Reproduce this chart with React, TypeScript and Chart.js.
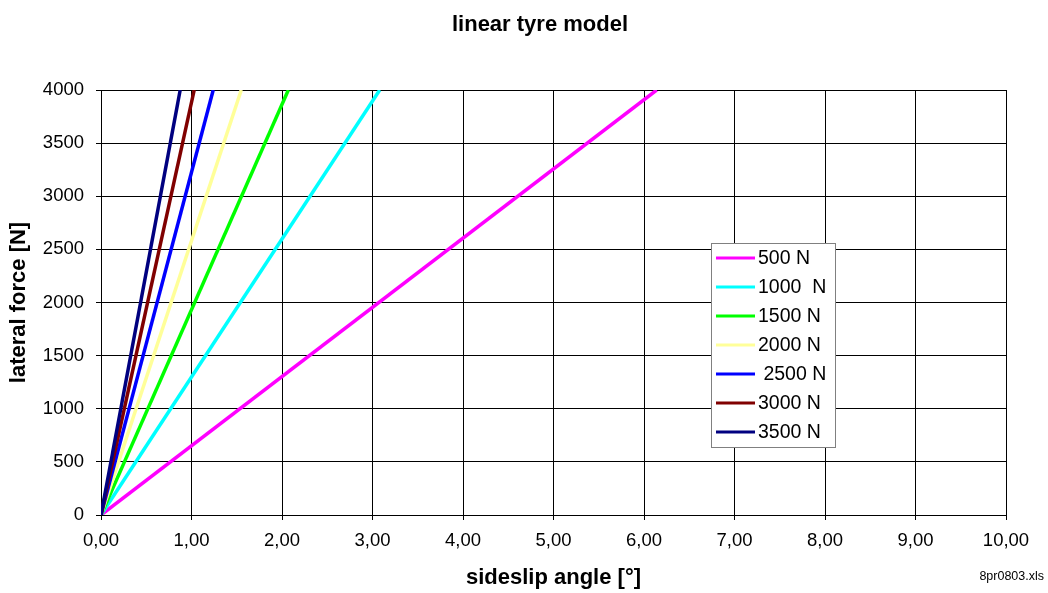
import React, { useEffect, useRef } from "react";
import { Chart, registerables } from "chart.js";

Chart.register(...registerables);

const chartTitle = "linear tyre model";
const xTitle = "sideslip angle [°]";
const yTitle = "lateral force [N]";
const fileNote = "8pr0803.xls";

const seriesLabels = ["500 N", "1000  N", "1500 N", "2000 N", " 2500 N", "3000 N", "3500 N"];
const seriesColors = ["#FF00FF", "#00FFFF", "#00FF00", "#FFFF99", "#0000FF", "#800000", "#000080"];
// sideslip angle [°] at the start and end of each line
const angleStart = [0, 0, 0, 0, 0, 0, 0];
const angleEnd = [6.14, 3.08, 2.07, 1.55, 1.24, 1.03, 0.875];
// lateral force [N] at start and end
const forceStart = [0, 0, 0, 0, 0, 0, 0];
const forceEnd = [4000, 4000, 4000, 4000, 4000, 4000, 4000];

const xMin = 0, xMax = 10, xStep = 1;
const yMin = 0, yMax = 4000, yStep = 500;

const FONT = "'Liberation Sans', Arial, Helvetica, sans-serif";

const titlePlugin = {
  id: "topTitle",
  afterDraw(chart: any) {
    const ctx = chart.ctx;
    ctx.save();
    ctx.font = `bold 22px ${FONT}`;
    ctx.fillStyle = "#000000";
    ctx.textAlign = "center";
    ctx.textBaseline = "alphabetic";
    ctx.fillText(chartTitle, 540, 30.5);
    ctx.restore();
  },
};

const legendPlugin = {
  id: "boxLegend",
  afterDraw(chart: any) {
    const ctx = chart.ctx;
    const x0 = 711.5, y0 = 243.5, w = 124, h = 204;
    ctx.save();
    ctx.fillStyle = "#ffffff";
    ctx.fillRect(x0, y0, w, h);
    ctx.strokeStyle = "#808080";
    ctx.lineWidth = 1;
    ctx.strokeRect(x0, y0, w, h);
    ctx.font = `19.5px ${FONT}`;
    ctx.textBaseline = "middle";
    ctx.textAlign = "left";
    chart.data.datasets.forEach((ds: any, i: number) => {
      const y = 258 + i * 29;
      ctx.strokeStyle = ds.borderColor;
      ctx.lineWidth = 3;
      ctx.beginPath();
      ctx.moveTo(716, y);
      ctx.lineTo(755, y);
      ctx.stroke();
      ctx.fillStyle = "#000000";
      ctx.fillText(ds.label, 758, y + 1);
    });
    ctx.restore();
  },
};

const notePlugin = {
  id: "fileNote",
  afterDraw(chart: any) {
    const ctx = chart.ctx;
    ctx.save();
    ctx.font = `12.5px ${FONT}`;
    ctx.fillStyle = "#000000";
    ctx.textAlign = "right";
    ctx.textBaseline = "middle";
    ctx.fillText(fileNote, 1044, 577);
    ctx.restore();
  },
};

export default function App() {
  const canvasRef = useRef<HTMLCanvasElement | null>(null);

  useEffect(() => {
    document.body.style.margin = "0";
    const canvas = canvasRef.current;
    if (!canvas) return;
    const datasets = seriesLabels.map((label, i) => ({
      label,
      data: [
        { x: angleStart[i], y: forceStart[i] },
        { x: angleEnd[i], y: forceEnd[i] },
      ],
      borderColor: seriesColors[i],
      backgroundColor: seriesColors[i],
      borderWidth: 3.5,
      pointRadius: 0,
      fill: false,
      tension: 0,
      order: seriesLabels.length - i,
    }));
    const chart = new Chart(canvas, {
      type: "line",
      data: { datasets },
      plugins: [titlePlugin, legendPlugin, notePlugin],
      options: {
        animation: false,
        responsive: false,
        maintainAspectRatio: false,
        layout: { padding: { left: 0, right: 42, top: 90, bottom: 0 } },
        plugins: {
          legend: { display: false },
          tooltip: { enabled: false },
          title: { display: false },
        },
        scales: {
          x: {
            type: "linear",
            min: xMin,
            max: xMax,
            afterFit: (s: any) => { s.height = 78; },
            ticks: {
              stepSize: xStep,
              color: "#000000",
              font: { family: FONT, size: 18.5 },
              padding: 10,
              maxRotation: 0,
              callback: (v: any) => Number(v).toFixed(2).replace(".", ","),
            },
            grid: { color: "#000000", lineWidth: 1, tickLength: 5, drawTicks: true },
            border: { color: "#000000", width: 1 },
            title: {
              display: true,
              text: xTitle,
              color: "#000000",
              font: { family: FONT, size: 22, weight: "bold" },
              padding: { top: 0, bottom: 2 },
            },
          },
          y: {
            type: "linear",
            min: yMin,
            max: yMax,
            afterFit: (s: any) => { s.width = 101; },
            ticks: {
              stepSize: yStep,
              color: "#000000",
              font: { family: FONT, size: 18.5 },
              padding: 12,
              callback: (v: any) => String(v),
            },
            grid: { color: "#000000", lineWidth: 1, tickLength: 5, drawTicks: true },
            border: { color: "#000000", width: 1 },
            title: {
              display: true,
              text: yTitle,
              color: "#000000",
              font: { family: FONT, size: 22, weight: "bold" },
              padding: { top: 6, bottom: 0 },
            },
          },
        },
      },
    } as any);
    return () => chart.destroy();
  }, []);

  return (
    <div style={{ position: "absolute", left: 0, top: 0, width: 1048, height: 593, background: "#ffffff" }}>
      <canvas ref={canvasRef} width={1048} height={593} style={{ display: "block" }} />
    </div>
  );
}
